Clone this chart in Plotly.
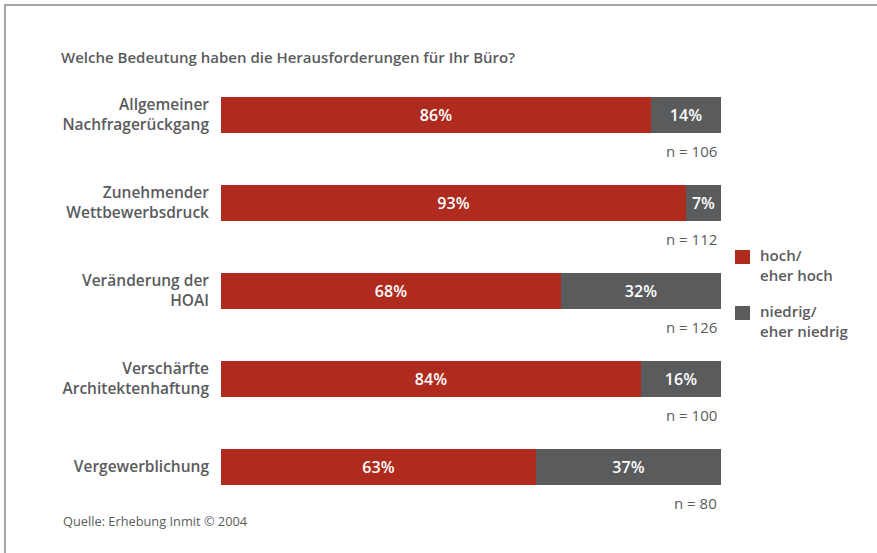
import plotly.graph_objects as go

# Survey data: importance of challenges for architecture offices
categories = [
    "Allgemeiner<br>Nachfragerückgang",
    "Zunehmender<br>Wettbewerbsdruck",
    "Veränderung der<br>HOAI",
    "Verschärfte<br>Architektenhaftung",
    "Vergewerblichung",
]
hoch = [86, 93, 68, 84, 63]
niedrig = [14, 7, 32, 16, 37]
n_values = [106, 112, 126, 100, 80]

series_names = ["hoch/<br>eher hoch", "niedrig/<br>eher niedrig"]
RED = "#AE2B1E"
GREY = "#5A5B5D"
TEXT = "#5A5B5D"
FONT = "Open Sans, sans-serif"

W, H = 877, 553
L, R, T, B = 221, 156, 71, 42
plot_w = W - L - R
plot_h = H - T - B


def px_x(px):
    return (px - L) / plot_w


def px_y(py):
    return (H - B - py) / plot_h


fig = go.Figure()
for name, vals, col in [(series_names[0], hoch, RED), (series_names[1], niedrig, GREY)]:
    fig.add_trace(go.Bar(
        y=categories, x=vals, orientation="h", name=name,
        marker=dict(color=col, line=dict(width=0)),
        width=0.41,
        text=[f"{v}%" for v in vals], textposition="inside",
        insidetextanchor="middle",
        textfont=dict(color="white", size=16, family=FONT, weight=600),
        showlegend=False,
    ))

annotations = []
for cat, n in zip(categories, n_values):
    annotations.append(dict(
        x=100, y=cat, xref="x", yref="y", text=f"n = {n}", showarrow=False,
        xanchor="right", yanchor="middle", yshift=-36, xshift=-2,
        font=dict(size=15, color=TEXT, family=FONT),
    ))

# legend drawn as squares with two-line labels
legend_items = [(series_names[0], RED, 250), (series_names[1], GREY, 306)]
shapes = []
for label, col, top in legend_items:
    shapes.append(dict(
        type="rect", xref="paper", yref="paper",
        x0=px_x(735), x1=px_x(750), y0=px_y(top + 14), y1=px_y(top),
        fillcolor=col, line=dict(width=0),
    ))
    annotations.append(dict(
        x=px_x(758), y=px_y(top + 15), xref="paper", yref="paper",
        text=label, showarrow=False, xanchor="left", yanchor="middle",
        align="left",
        font=dict(size=15, color=TEXT, family=FONT, weight=600),
    ))

annotations.append(dict(
    x=px_x(61), y=px_y(521), xref="paper", yref="paper",
    text="Quelle: Erhebung Inmit © 2004", showarrow=False,
    xanchor="left", yanchor="middle",
    font=dict(size=12.8, color=TEXT, family=FONT),
))

# frame around the chart
shapes.append(dict(
    type="rect", xref="paper", yref="paper",
    x0=px_x(5), x1=px_x(900), y0=px_y(560), y1=px_y(5),
    line=dict(color="#8a8a8a", width=1.5), fillcolor="rgba(0,0,0,0)",
    layer="below",
))

fig.update_layout(
    width=W, height=H,
    margin=dict(l=L, r=R, t=T, b=B, autoexpand=False),
    barmode="stack",
    plot_bgcolor="white", paper_bgcolor="white",
    title=dict(
        text="Welche Bedeutung haben die Herausforderungen für Ihr Büro?",
        x=61 / W, xanchor="left", y=1 - 58 / H, yanchor="middle",
        font=dict(size=15, color=TEXT, family=FONT, weight=600),
    ),
    xaxis=dict(range=[0, 100], visible=False, fixedrange=True, automargin=False),
    yaxis=dict(
        categoryorder="array", categoryarray=categories,
        range=[len(categories) - 0.5, -0.5],
        showgrid=False, zeroline=False, showline=False, ticks="",
        automargin=False, ticklabelstandoff=11, fixedrange=True,
        tickfont=dict(size=15.5, color=TEXT, family=FONT, weight=600),
    ),
    uniformtext=dict(mode="show", minsize=10),
    annotations=annotations,
    shapes=shapes,
    showlegend=False,
)

fig.write_html("out.html")
